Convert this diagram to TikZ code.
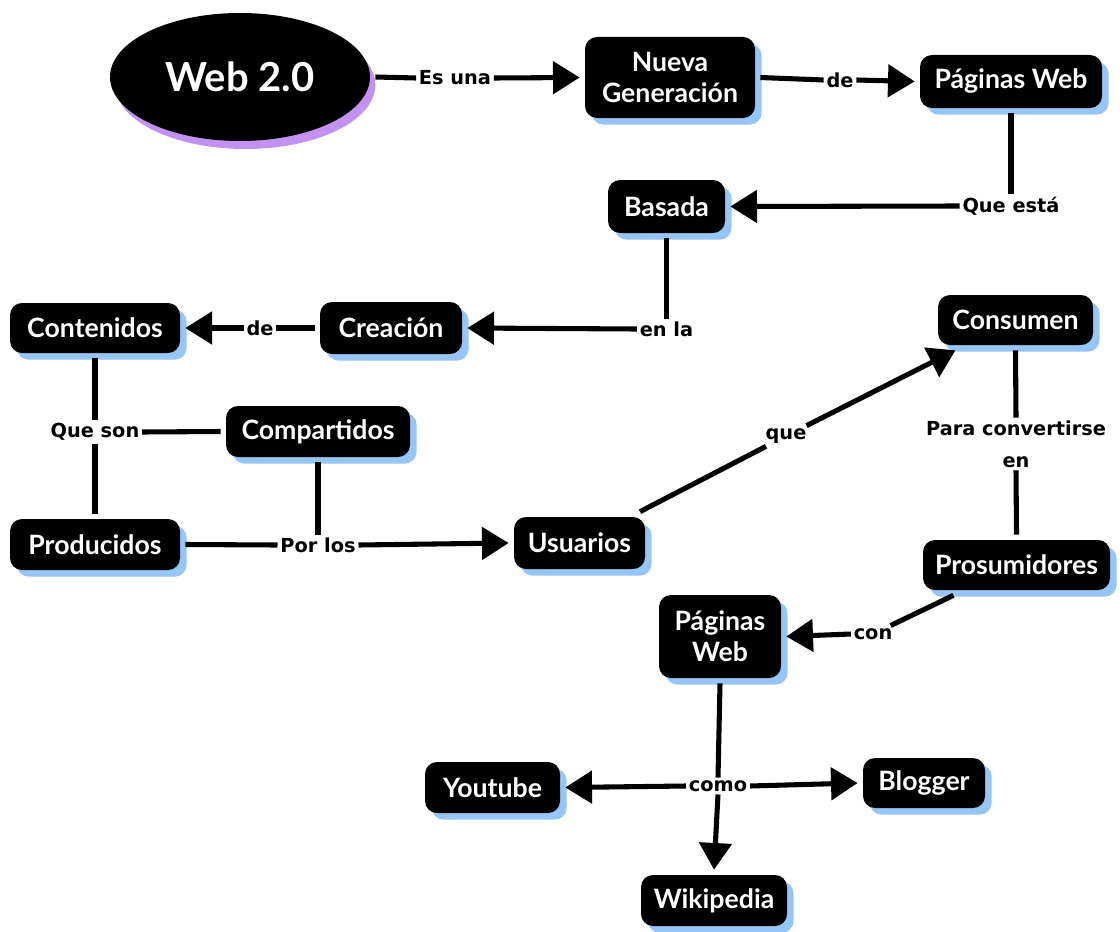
\documentclass[tikz,border=0pt]{standalone}
\usepackage{fontspec}
\setmainfont{Lato}
\newfontfamily\lblfont{DejaVu Sans}
\usetikzlibrary{arrows.meta,shadows,shapes.geometric}
\definecolor{shblue}{HTML}{96C6F8}
\definecolor{shpurple}{HTML}{C391F0}
\begin{document}
\begin{tikzpicture}[x=0.75pt,y=-0.75pt,
  box/.style={fill=black, text=white, rounded corners=9pt,
    font=\bfseries\fontsize{20}{23}\selectfont, align=center,
    inner sep=0pt, outer sep=4pt,
    drop shadow={shadow xshift=5pt, shadow yshift=-5pt, fill=shblue, opacity=1}},
  lbl/.style={font=\lblfont\bfseries\fontsize{14.5}{24}\selectfont, inner sep=2pt, align=center},
  conn/.style={line width=3.8pt},
  arr/.style={conn, -{Triangle[length=20pt,width=24pt]}},
]
\useasboundingbox (0,0) rectangle (1120,931);
\fill[white] (0,0) rectangle (1120,931);

% nodes
\node[ellipse, fill=black, text=white, minimum width=195pt, minimum height=96pt,
  inner sep=0pt, outer sep=4pt, font=\bfseries\fontsize{30}{34}\selectfont,
  drop shadow={shadow xshift=4pt, shadow yshift=-6pt, fill=shpurple, opacity=1}]
  (web) at (240,77) {Web 2.0};
\node[box, minimum width=127.5pt, minimum height=60.75pt] (ng) at (670,77.5) {Nueva\\Generación};
\node[box, minimum width=136.5pt, minimum height=39.75pt] (pw1) at (1011,81.5) {Páginas Web};
\node[box, minimum width=87.75pt, minimum height=39.75pt] (bas) at (666.5,206.5) {Basada};
\node[box, minimum width=106.5pt, minimum height=39pt] (cre) at (391,328) {Creación};
\node[box, minimum width=127.5pt, minimum height=37.5pt] (cont) at (95,328) {Contenidos};
\node[box, minimum width=138pt, minimum height=38.25pt] (comp) at (318,431.5) {Compartidos};
\node[box, minimum width=127.5pt, minimum height=38.25pt] (prod) at (95,544.5) {Producidos};
\node[box, minimum width=98.25pt, minimum height=39pt] (usu) at (579.5,543) {Usuarios};
\node[box, minimum width=116.25pt, minimum height=37.5pt] (cons) at (1015.5,320) {Consumen};
\node[box, minimum width=140.25pt, minimum height=37.5pt] (pros) at (1016.5,565) {Prosumidores};
\node[box, minimum width=91.5pt, minimum height=62.25pt] (pw2) at (720,636.5) {Páginas\\Web};
\node[box, minimum width=101.25pt, minimum height=38.25pt] (you) at (492.5,787.5) {Youtube};
\node[box, minimum width=91.5pt, minimum height=37.5pt] (blo) at (924,783) {Blogger};
\node[box, minimum width=109.5pt, minimum height=38.25pt] (wik) at (714,900.5) {Wikipedia};

% labels
\node[lbl] (lEsuna) at (455,78) {Es una};
\node[lbl] (lDe1) at (840,80) {de};
\node[lbl] (lQueesta) at (1011,206) {Que está};
\node[lbl] (lEnla) at (666.5,329) {en la};
\node[lbl] (lDe2) at (260,328) {de};
\node[lbl] (lQueson) at (95,432) {Que son};
\node[lbl] (lPorlos) at (318,545) {Por los};
\node[lbl] (lQue) at (786,436) {que};
\node[lbl] (lPara) at (1016,444) {Para convertirse\\en};
\node[lbl] (lCon) at (873,634) {con};
\node[lbl] (lComo) at (718,786) {como};

% connectors
\draw[conn] (web.east) -- (lEsuna.west);
\draw[arr] (lEsuna.east) -- (ng.west);
\draw[conn] (ng.east) -- (lDe1.west);
\draw[arr] (lDe1.east) -- (pw1.west);
\draw[conn] (pw1.south) -- (lQueesta.north);
\draw[arr] (lQueesta.west) -- (bas.east);
\draw[conn] (bas.south) -- (lEnla.north);
\draw[arr] (lEnla.west) -- (cre.east);
\draw[conn] (cre.west) -- (lDe2.east);
\draw[arr] (lDe2.west) -- (cont.east);
\draw[conn] (cont.south) -- (lQueson.north);
\draw[conn] (lQueson.south) -- (prod.north);
\draw[conn] (lQueson.east) -- (comp.west);
\draw[conn] (comp.south) -- (lPorlos.north);
\draw[conn] (prod.east) -- (lPorlos.west);
\draw[arr] (lPorlos.east) -- (usu.west);
\draw[conn] (usu) -- (lQue);
\draw[arr] (lQue) -- (cons);
\draw[conn] (cons.south) -- (lPara.north);
\draw[conn] (lPara.south) -- (pros.north);
\draw[conn] (pros) -- (lCon);
\draw[arr] (lCon.west) -- (pw2.east);
\draw[conn] (pw2.south) -- (lComo.north);
\draw[arr] (lComo.west) -- (you.east);
\draw[arr] (lComo.east) -- (blo.west);
\draw[arr] (lComo.south) -- (wik.north);
\end{tikzpicture}
\end{document}
